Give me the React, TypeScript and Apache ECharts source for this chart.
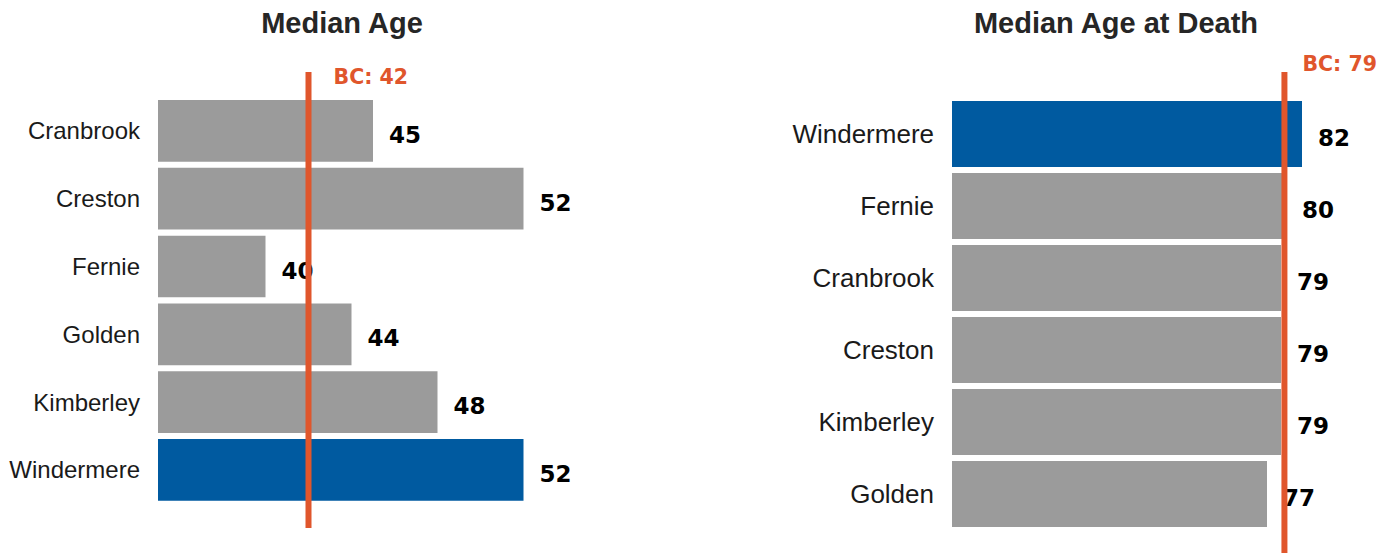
import React, { useEffect, useRef } from "react";
import * as echarts from "echarts";

const ageCategories = ["Cranbrook", "Creston", "Fernie", "Golden", "Kimberley", "Windermere"];
const ageValues = [45, 52, 40, 44, 48, 52];
const ageBC = 42;

const deathCategories = ["Windermere", "Fernie", "Cranbrook", "Creston", "Kimberley", "Golden"];
const deathValues = [82, 79.7, 79, 79, 79, 77];
const deathBC = 79.49;

const highlight = "Windermere";

const GREY = "#9b9b9b";
const BLUE = "#005aa0";
const ORANGE = "#e0562c";
const TEXT = "#1a1a1a";
const TITLE = "#262626";

export default function App() {
  const ref = useRef<HTMLDivElement>(null);

  useEffect(() => {
    if (!ref.current) return;
    const chart = echarts.init(ref.current, undefined, { renderer: "svg" });

    const mkData = (cats: string[], vals: number[]) =>
      vals.map((v, i) => ({
        value: v,
        itemStyle: { color: cats[i] === highlight ? BLUE : GREY },
      }));

    const valueLabel = {
      show: true,
      position: "right" as const,
      distance: 16,
      offset: [0, 4],
      fontFamily: "DejaVu Sans",
      fontWeight: "bold" as const,
      fontSize: 23,
      color: "#000",
      formatter: (p: any) => String(Math.round(p.value)),
    };

    const catAxis = (idx: number, data: string[], size: number) => ({
      type: "category" as const,
      gridIndex: idx,
      data,
      inverse: true,
      axisLine: { show: false },
      axisTick: { show: false },
      splitLine: { show: false },
      axisLabel: {
        fontFamily: "Liberation Sans, Arial, sans-serif",
        fontSize: size,
        color: TEXT,
        margin: 18,
      },
    });

    chart.setOption({
      animation: false,
      grid: [
        { left: 158, top: 97, width: 365.5, height: 406.8 },
        { left: 952, top: 98, width: 350, height: 432 },
      ],
      xAxis: [
        { type: "value", gridIndex: 0, min: 35, max: 52, show: false },
        { type: "value", gridIndex: 1, min: 32, max: 82, show: false },
      ],
      yAxis: [catAxis(0, ageCategories, 24), catAxis(1, deathCategories, 26)],
      series: [
        {
          type: "bar",
          xAxisIndex: 0,
          yAxisIndex: 0,
          data: mkData(ageCategories, ageValues),
          barCategoryGap: "9%",
          label: valueLabel,
        },
        {
          type: "bar",
          xAxisIndex: 1,
          yAxisIndex: 1,
          data: mkData(deathCategories, deathValues),
          barCategoryGap: "8.3%",
          label: valueLabel,
        },
      ],
    });

    const x1 = chart.convertToPixel({ xAxisIndex: 0 }, ageBC) as number;
    const x2 = chart.convertToPixel({ xAxisIndex: 1 }, deathBC) as number;

    const titleStyle = (text: string) => ({
      text,
      fill: TITLE,
      font: "bold 29px 'Liberation Sans', Arial, sans-serif",
      textAlign: "center",
      textVerticalAlign: "middle",
    });
    const bcStyle = (v: number) => ({
      text: "BC: " + Math.round(v),
      fill: ORANGE,
      font: "bold 20.5px 'DejaVu Sans', sans-serif",
      textAlign: "left",
      textVerticalAlign: "middle",
    });

    chart.setOption({
      graphic: [
        { type: "text", x: 342, y: 23, style: titleStyle("Median Age") },
        { type: "text", x: 1116, y: 23, style: titleStyle("Median Age at Death") },
        {
          type: "line",
          z: 100,
          shape: { x1: x1, y1: 72, x2: x1, y2: 528 },
          style: { stroke: ORANGE, lineWidth: 6 },
        },
        {
          type: "line",
          z: 100,
          shape: { x1: x2, y1: 72, x2: x2, y2: 553 },
          style: { stroke: ORANGE, lineWidth: 6 },
        },
        { type: "text", z: 100, x: x1 + 25, y: 77, style: bcStyle(ageBC) },
        { type: "text", z: 100, x: x2 + 18, y: 64, style: bcStyle(deathBC) },
      ],
    });

    return () => chart.dispose();
  }, []);

  return (
    <div
      ref={ref}
      style={{ position: "fixed", left: 0, top: 0, width: 1389, height: 553, background: "#fff" }}
    />
  );
}
